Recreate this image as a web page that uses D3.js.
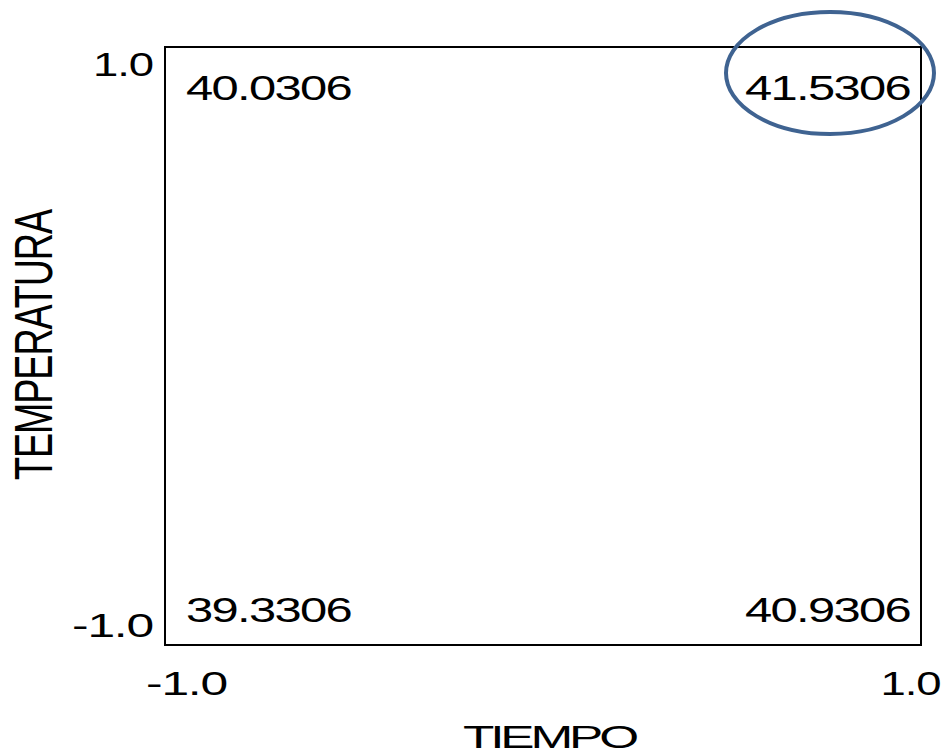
<!DOCTYPE html>
<html>
<head>
<meta charset="utf-8">
<script src="https://cdn.jsdelivr.net/npm/d3@7"></script>
<style>
  html, body { margin: 0; padding: 0; background: #fff; }
  svg { display: block; }
  text { font-family: "Liberation Sans", Arial, sans-serif; fill: #000; }
</style>
</head>
<body>
<svg id="chart" width="949" height="754"></svg>
<script>
// ---- data ----
const tiempo      = [-1, 1, -1, 1];
const temperatura = [1, 1, -1, -1];
const respuesta   = [40.0306, 41.5306, 39.3306, 40.9306];
const highlighted = [false, true, false, false];
const xTickValues = [-1, 1];
const yTickValues = [-1, 1];
const tickLabels  = ["-1.0", "1.0"];
const xTitle = "TIEMPO";
const yTitle = "TEMPERATURA";

// ---- layout ----
const box = { left: 165, right: 921, top: 47, bottom: 645 };
const svg = d3.select("#chart");

const x = d3.scaleLinear().domain([-1, 1]).range([186, 910]);
const y = d3.scaleLinear().domain([-1, 1]).range([626, 65]);

// horizontally stretch a text so it spans targetWidth (keeps tight glyph spacing)
function stretch(node, target, baseTransform) {
  const w = node.getComputedTextLength();
  const s = target / w;
  const x0 = +(node.getAttribute("x") || 0);
  node.setAttribute("x", x0 / s);
  node.setAttribute("transform", (baseTransform || "") + ` scale(${s},1)`);
}

// plot frame
svg.append("rect")
  .attr("x", box.left).attr("y", box.top)
  .attr("width", box.right - box.left).attr("height", box.bottom - box.top)
  .attr("fill", "none").attr("stroke", "#000").attr("stroke-width", 2);

// y axis
const yAxis = d3.axisLeft(y).tickValues(yTickValues).tickSize(0).tickPadding(0)
  .tickFormat((d) => tickLabels[yTickValues.indexOf(d)]);
const gy = svg.append("g").attr("transform", `translate(153,0)`).call(yAxis);
gy.select(".domain").remove();
gy.selectAll("text")
  .attr("x", 0)
  .style("font-family", '"Liberation Sans", Arial, sans-serif')
  .style("font-size", "33.5px").attr("fill", "#000")
  .style("letter-spacing", "-0.8px")
  .each(function (d) { stretch(this, d < 0 ? 81 : 60); });

// x axis
const xAxis = d3.axisBottom(x).tickValues(xTickValues).tickSize(0).tickPadding(0)
  .tickFormat((d) => tickLabels[xTickValues.indexOf(d)]);
const gx = svg.append("g").attr("transform", `translate(0,${box.bottom})`).call(xAxis);
gx.select(".domain").remove();
gx.selectAll("text")
  .attr("y", 50).attr("dy", 0)
  .style("font-family", '"Liberation Sans", Arial, sans-serif')
  .style("font-size", "33.5px").attr("fill", "#000")
  .style("letter-spacing", "-0.8px")
  .each(function (d) { stretch(this, d < 0 ? 81 : 60); });

// corner value labels
const pts = respuesta.map((v, i) => ({ t: tiempo[i], T: temperatura[i], v, h: highlighted[i] }));
svg.append("g").selectAll("text").data(pts).join("text")
  .attr("x", (d) => x(d.t))
  .attr("y", (d) => d.T > 0 ? y(d.T) + 35 : y(d.T) - 4)
  .attr("text-anchor", (d) => d.t < 0 ? "start" : "end")
  .style("font-size", "35px")
  .style("letter-spacing", "-1.2px")
  .text((d) => d.v.toFixed(4))
  .each(function () { stretch(this, 165); });

// highlight ellipse
svg.append("g").selectAll("ellipse").data(pts.filter((d) => d.h)).join("ellipse")
  .attr("cx", (d) => x(d.t) - 80)
  .attr("cy", (d) => y(d.T) + 8)
  .attr("rx", 104).attr("ry", 61)
  .attr("fill", "none").attr("stroke", "#3F6391").attr("stroke-width", 4);

// axis titles
svg.append("text")
  .attr("x", 549).attr("y", 748)
  .attr("text-anchor", "middle")
  .style("font-size", "31px")
  .style("letter-spacing", "-2.5px")
  .text(xTitle)
  .each(function () { stretch(this, 172); });

svg.append("text")
  .attr("x", 0).attr("y", 0)
  .attr("text-anchor", "middle")
  .style("font-size", "53px")
  .style("letter-spacing", "-1.5px")
  .text(yTitle)
  .each(function () { stretch(this, 270, "translate(52,345) rotate(-90)"); });
</script>
</body>
</html>
